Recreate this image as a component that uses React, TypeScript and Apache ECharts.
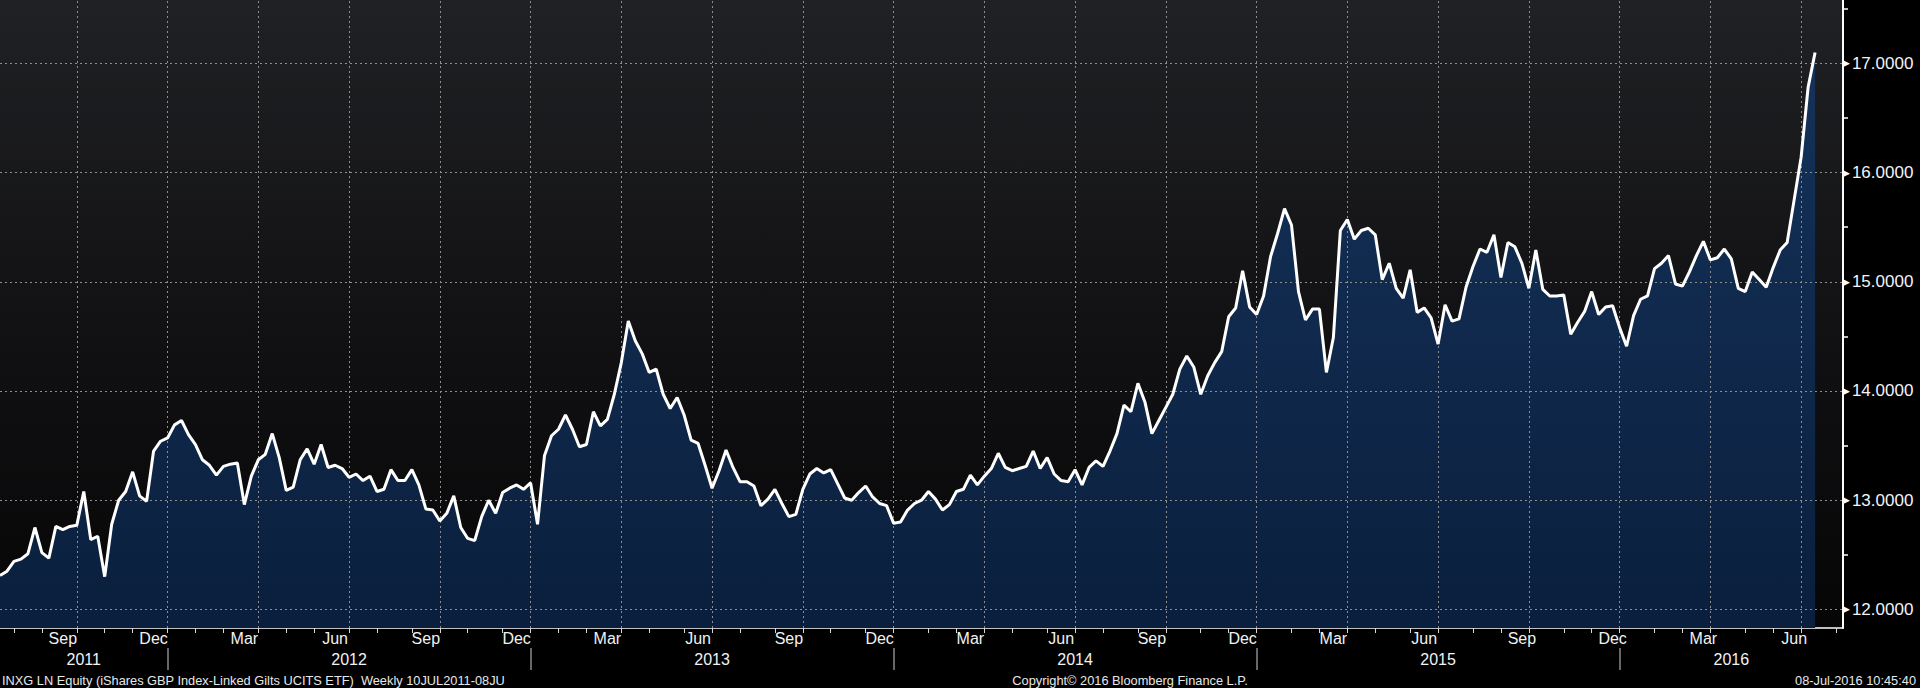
import React, { useEffect, useRef } from "react";
import * as echarts from "echarts";

// Weekly closes (Fridays)
const prices2011 = [12.31, 12.35, 12.44, 12.46, 12.51, 12.75, 12.52, 12.47, 12.76, 12.73, 12.76, 12.77, 13.08, 12.64, 12.67, 12.30, 12.78, 13.00, 13.08, 13.26, 13.04, 12.99, 13.45, 13.54, 13.57];
const prices2012 = [13.69, 13.73, 13.60, 13.51, 13.37, 13.32, 13.23, 13.31, 13.33, 13.34, 12.96, 13.22, 13.37, 13.42, 13.61, 13.39, 13.09, 13.12, 13.37, 13.47, 13.33, 13.51, 13.30, 13.32, 13.29, 13.21, 13.24, 13.18, 13.22, 13.08, 13.10, 13.28, 13.18, 13.18, 13.28, 13.14, 12.92, 12.91, 12.81, 12.88, 13.04, 12.75, 12.65, 12.63, 12.85, 13.00, 12.88, 13.07, 13.11, 13.14, 13.10, 13.16];
const prices2013 = [12.78, 13.41, 13.59, 13.65, 13.78, 13.65, 13.49, 13.51, 13.81, 13.68, 13.74, 13.97, 14.26, 14.64, 14.46, 14.34, 14.17, 14.20, 13.97, 13.84, 13.94, 13.78, 13.55, 13.52, 13.32, 13.11, 13.27, 13.46, 13.30, 13.17, 13.17, 13.13, 12.95, 13.01, 13.10, 12.97, 12.85, 12.87, 13.10, 13.24, 13.29, 13.25, 13.28, 13.15, 13.02, 13.00, 13.07, 13.13, 13.03, 12.97, 12.95, 12.79];
const prices2014 = [12.80, 12.91, 12.97, 13.00, 13.08, 13.01, 12.91, 12.96, 13.08, 13.10, 13.23, 13.14, 13.22, 13.29, 13.43, 13.30, 13.27, 13.29, 13.31, 13.45, 13.29, 13.39, 13.24, 13.18, 13.17, 13.28, 13.14, 13.30, 13.36, 13.31, 13.45, 13.61, 13.87, 13.81, 14.07, 13.90, 13.61, 13.73, 13.85, 13.97, 14.20, 14.32, 14.22, 13.97, 14.14, 14.26, 14.36, 14.68, 14.76, 15.10, 14.77, 14.70];
const prices2015 = [14.87, 15.23, 15.44, 15.67, 15.52, 14.91, 14.65, 14.75, 14.75, 14.17, 14.49, 15.47, 15.57, 15.39, 15.47, 15.49, 15.43, 15.02, 15.17, 14.94, 14.85, 15.11, 14.72, 14.76, 14.67, 14.43, 14.79, 14.64, 14.66, 14.95, 15.14, 15.30, 15.27, 15.43, 15.04, 15.36, 15.32, 15.17, 14.94, 15.29, 14.93, 14.87, 14.87, 14.88, 14.52, 14.63, 14.73, 14.91, 14.70, 14.77, 14.78, 14.58];
const prices2016 = [14.41, 14.69, 14.84, 14.87, 15.12, 15.17, 15.24, 14.98, 14.96, 15.09, 15.24, 15.37, 15.20, 15.22, 15.30, 15.21, 14.94, 14.91, 15.09, 15.02, 14.95, 15.13, 15.29, 15.36, 15.75, 16.14, 16.78, 17.10];

// Weekly category axis: first Friday of the data and number of weeks shown (incl. empty weeks at the right edge)
const FIRST_FRIDAY_UTC = Date.UTC(2011, 6, 15);
const WEEKS_SHOWN = 265;

const yLabelValues = [12, 13, 14, 15, 16, 17];
const yMinorTickValues = [12.5, 13.5, 14.5, 15.5, 16.5, 17.5];
const monthNames = ["Jan", "Feb", "Mar", "Apr", "May", "Jun", "Jul", "Aug", "Sep", "Oct", "Nov", "Dec"];
const quarterEndMonths = [2, 5, 8, 11];

const footerLeft = "INXG LN Equity (iShares GBP Index-Linked Gilts UCITS ETF)  Weekly 10JUL2011-08JU";
const footerCenter = "Copyright\u00A9 2016 Bloomberg Finance L.P.";
const footerRight = "08-Jul-2016 10:45:40";

const FONT = '"Liberation Sans", Arial, sans-serif';

export default function App() {
  const ref = useRef<HTMLDivElement>(null);

  useEffect(() => {
    document.body.style.margin = "0";
    document.body.style.background = "#000";
    if (!ref.current) return;
    const chart = echarts.init(ref.current, undefined, { renderer: "svg" });

    const prices = [...prices2011, ...prices2012, ...prices2013, ...prices2014, ...prices2015, ...prices2016];
    const dates: string[] = [];
    for (let i = 0; i < WEEKS_SHOWN; i++) {
      dates.push(new Date(FIRST_FRIDAY_UTC + i * 7 * 86400000).toISOString().slice(0, 10));
    }
    const seriesData = dates.map((_, i) => (i < prices.length ? prices[i] : null));

    const month = (d: string) => parseInt(d.slice(5, 7), 10) - 1;
    const day = (d: string) => parseInt(d.slice(8, 10), 10);
    const year = (d: string) => d.slice(0, 4);

    const isMonthEnd = (i: number) => i < dates.length - 1 && month(dates[i]) !== month(dates[i + 1]);
    const isQuarterEnd = (i: number) => isMonthEnd(i) && quarterEndMonths.includes(month(dates[i]));
    const isQuarterLabel = (i: number) =>
      quarterEndMonths.includes(month(dates[i])) && day(dates[i]) >= 12 && day(dates[i]) <= 18;
    const isYearEnd = (i: number) => i < dates.length - 1 && year(dates[i]) !== year(dates[i + 1]);

    const yearMid = new Set<number>();
    const years = Array.from(new Set(dates.map(year)));
    years.forEach((y) => {
      const idx = dates.map((d, i) => (year(d) === y ? i : -1)).filter((i) => i >= 0);
      yearMid.add(idx[Math.floor((idx.length - 1) / 2)]);
    });

    const gridDates = dates.filter((_, i) => isQuarterEnd(i));

    const bgGradient = new echarts.graphic.LinearGradient(0, 0, 0, 1, [
      { offset: 0, color: "#202124" },
      { offset: 0.5, color: "#121214" },
      { offset: 1, color: "#060607" },
    ]);
    const areaGradient = new echarts.graphic.LinearGradient(0, 0, 0, 1, [
      { offset: 0, color: "#15325a" },
      { offset: 1, color: "#0a1f3d" },
    ]);

    chart.setOption({
      animation: false,
      backgroundColor: "#000",
      grid: { left: 0, top: 0, width: 1843, height: 628, containLabel: false },
      graphic: [
        {
          type: "rect",
          z: -10,
          silent: true,
          shape: { x: 0, y: 0, width: 1843, height: 628 },
          style: { fill: bgGradient },
        },
        {
          type: "text",
          x: 2,
          y: 680,
          silent: true,
          style: { text: footerLeft, fill: "#e8e8e8", fontSize: 12.8, fontFamily: FONT, align: "left", verticalAlign: "middle" },
        },
        {
          type: "text",
          x: 1130,
          y: 680,
          silent: true,
          style: { text: footerCenter, fill: "#e8e8e8", fontSize: 12.8, fontFamily: FONT, align: "center", verticalAlign: "middle" },
        },
        {
          type: "text",
          x: 1916,
          y: 680,
          silent: true,
          style: { text: footerRight, fill: "#e8e8e8", fontSize: 12.8, fontFamily: FONT, align: "right", verticalAlign: "middle" },
        },
      ],
      xAxis: [
        {
          type: "category",
          data: dates,
          boundaryGap: false,
          axisLine: { show: true, onZero: false, lineStyle: { color: "#ffffff", width: 1.5 } },
          axisTick: {
            show: true,
            interval: (i: number) => isMonthEnd(i),
            length: 5,
            lineStyle: { color: "#d8d8d8", width: 1 },
          },
          axisLabel: {
            show: true,
            interval: (i: number) => isQuarterLabel(i),
            formatter: (v: string) => monthNames[month(v)],
            color: "#f2f2f2",
            fontSize: 16,
            fontFamily: FONT,
            margin: 2,
          },
          splitLine: { show: false },
        },
        {
          type: "category",
          data: dates,
          boundaryGap: false,
          position: "bottom",
          offset: 20,
          axisLine: { show: false },
          axisTick: {
            show: true,
            interval: (i: number) => isYearEnd(i),
            length: 22,
            lineStyle: { color: "#8a8a8a", width: 1.5 },
          },
          axisLabel: {
            show: true,
            interval: (i: number) => yearMid.has(i),
            formatter: (v: string) => year(v),
            color: "#f2f2f2",
            fontSize: 16,
            fontFamily: FONT,
            margin: 3,
          },
          splitLine: { show: false },
        },
      ],
      yAxis: {
        type: "value",
        position: "right",
        min: 11.83,
        max: 17.58,
        axisLine: { show: true, onZero: false, lineStyle: { color: "#ffffff", width: 2 } },
        axisTick: {
          show: true,
          customValues: yMinorTickValues,
          length: 5,
          lineStyle: { color: "#ffffff", width: 1.5 },
        },
        axisLabel: {
          show: true,
          customValues: yLabelValues,
          margin: 0,
          formatter: (v: number) => `{t|\u25B6}{v|${v.toFixed(4)}}`,
          rich: {
            t: { fontSize: 9, color: "#ffffff", fontFamily: '"DejaVu Sans"', padding: [0, 2, 0, 0] },
            v: { fontSize: 17, color: "#f2f4fa", fontFamily: FONT },
          },
        },
        splitLine: { show: false },
      },
      series: [
        {
          name: "area",
          type: "line",
          data: seriesData,
          showSymbol: false,
          symbol: "none",
          lineStyle: { width: 0 },
          areaStyle: { origin: "start", color: areaGradient, opacity: 1 },
          z: 2,
          silent: true,
          markLine: {
            silent: true,
            symbol: ["none", "none"],
            label: { show: false },
            lineStyle: { color: "#8e8e8e", type: [2, 3], width: 1 },
            data: [
              ...yLabelValues.map((v) => ({ yAxis: v })),
              ...gridDates.map((d) => ({ xAxis: d })),
            ],
          },
        },
        {
          name: "INXG LN Equity",
          type: "line",
          data: seriesData,
          showSymbol: false,
          symbol: "none",
          lineStyle: { color: "#ffffff", width: 3 },
          z: 10,
          silent: true,
        },
      ],
    });

    return () => chart.dispose();
  }, []);

  return (
    <div
      ref={ref}
      style={{ position: "fixed", left: 0, top: 0, width: 1920, height: 688, background: "#000" }}
    />
  );
}
